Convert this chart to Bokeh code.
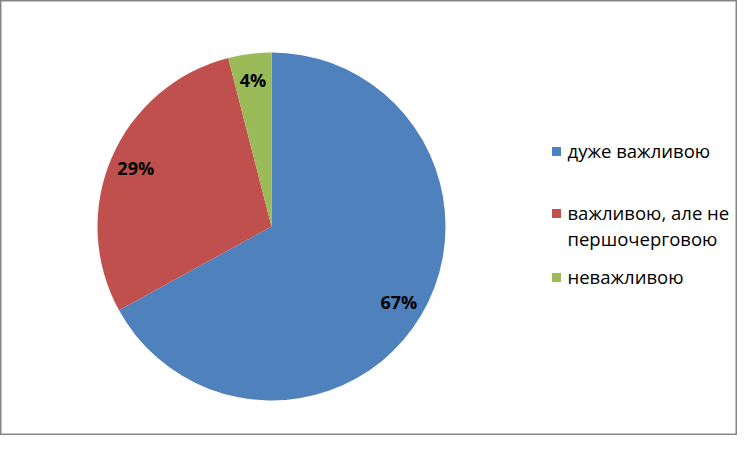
import math
from bokeh.plotting import figure
from bokeh.models import Range1d
from bokeh.embed import file_html
from bokeh.resources import INLINE
from bokeh.core.properties import value

categories = ["дуже важливою", "важливою, але не\nпершочерговою", "неважливою"]
shares = [67, 29, 4]
pct_labels = ["67%", "29%", "4%"]
colors = ["#4F81BD", "#C0504D", "#9BBB59"]

W, H = 737, 435
TOP = 451  # data y = TOP - screen y
p = figure(width=W, height=H, output_backend="svg", toolbar_location=None,
           x_range=Range1d(0, W), y_range=Range1d(TOP - H, TOP), min_border=0,
           x_axis_location=None, y_axis_location=None)
p.grid.visible = False
p.outline_line_color = "#868686"
p.outline_line_width = 2
p.background_fill_color = "white"
p.border_fill_color = "white"

cx, cy, r = 271, TOP - 226, 174
total = sum(shares)
starts, ends, mids = [], [], []
a = math.pi / 2
for s in shares:
    d = 2 * math.pi * s / total
    starts.append(a)
    mids.append(a - d / 2)
    a -= d
    ends.append(a)

p.wedge(x=cx, y=cy, radius=r, start_angle=starts, end_angle=ends,
        direction="clock", fill_color=colors, line_color=None)

lr = 0.85 * r
lx = [cx + lr * math.cos(m) for m in mids]
ly = [cy + lr * math.sin(m) for m in mids]
p.text(x=lx, y=ly, text=pct_labels, text_align="center", text_baseline="middle",
       text_font=value("Open Sans"), text_font_style="bold", text_font_size="18px",
       text_color="black")

# legend
leg_x = 556
leg_y = [TOP - 151, TOP - 213, TOP - 277]
p.scatter(x=[leg_x] * 3, y=leg_y, marker="square", size=9, fill_color=colors, line_color=None)
p.text(x=[leg_x + 11] * 3, y=[v + 13.5 for v in leg_y], text=categories,
       text_align="left", text_baseline="top", text_font=value("Open Sans"),
       text_font_size="18.5px", text_color="black", text_line_height=1.05)

open("out.html", "w").write(file_html(p, INLINE))
